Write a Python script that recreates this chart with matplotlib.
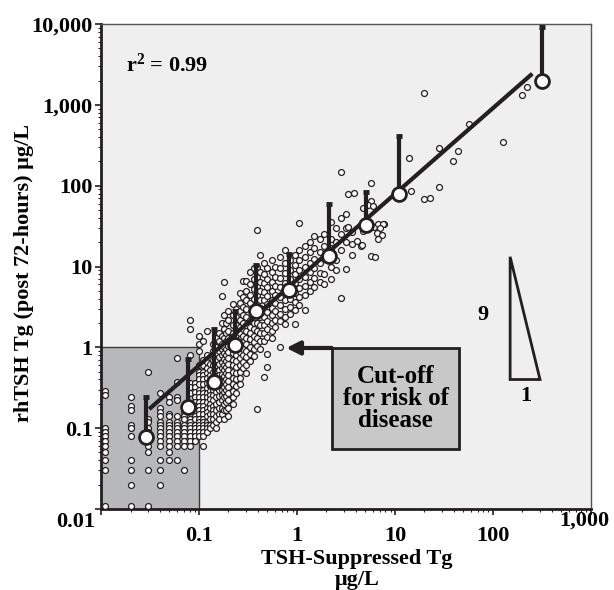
import matplotlib
matplotlib.use('Agg')
import matplotlib.pyplot as plt
from matplotlib.patches import Rectangle, Polygon

plt.rcParams['font.family'] = ['Liberation Serif', 'DejaVu Serif']
plt.rcParams['font.weight'] = 'bold'
plt.rcParams['mathtext.fontset'] = 'custom'
plt.rcParams['mathtext.rm'] = 'Liberation Serif:bold'
plt.rcParams['mathtext.it'] = 'Liberation Serif:italic:bold'
plt.rcParams['mathtext.bf'] = 'Liberation Serif:bold'

INK = '#231f20'

# individual patients, low values reported in steps -> columns of the same x
grid_cols = {
    0.011: [0.29, 0.26, 0.1, 0.09, 0.08, 0.07, 0.06, 0.05, 0.04, 0.03, 0.011],
    0.02: [0.24, 0.19, 0.17, 0.11, 0.1, 0.08, 0.04, 0.03, 0.02, 0.011],
    0.03: [0.5, 0.13, 0.12, 0.1, 0.09, 0.07, 0.06, 0.05, 0.03, 0.011],
    0.04: [0.27, 0.18, 0.16, 0.14, 0.12, 0.11, 0.1, 0.09, 0.08, 0.07, 0.06, 0.04, 0.03, 0.02],
    0.05: [0.24, 0.21, 0.15, 0.14, 0.12, 0.11, 0.1, 0.09, 0.08, 0.07, 0.06, 0.05, 0.04],
    0.06: [0.74, 0.37, 0.24, 0.22, 0.14, 0.12, 0.11, 0.1, 0.09, 0.08, 0.07, 0.06, 0.04],
    0.07: [0.16, 0.14, 0.13, 0.11, 0.1, 0.09, 0.08, 0.07, 0.06, 0.03],
    0.08: [2.2, 1.7, 0.8, 0.36, 0.32, 0.27, 0.13, 0.12, 0.11, 0.1, 0.09, 0.08, 0.07, 0.06],
    0.09: [0.36, 0.32, 0.28, 0.24, 0.21, 0.19, 0.17, 0.14, 0.13, 0.11, 0.1, 0.09, 0.08, 0.07],
    0.1: [1.4, 1.1, 0.9, 0.6, 0.5, 0.45, 0.4, 0.35, 0.3, 0.27, 0.24, 0.21, 0.19, 0.17,
          0.15, 0.13, 0.12, 0.11, 0.1, 0.09, 0.08],
    0.11: [1.2, 0.7, 0.6, 0.5, 0.45, 0.4, 0.35, 0.3, 0.27, 0.24, 0.21, 0.19, 0.17, 0.15,
           0.13, 0.12, 0.11, 0.1, 0.09, 0.08, 0.06],
    0.12: [1.6, 0.8, 0.65, 0.55, 0.48, 0.42, 0.36, 0.31, 0.27, 0.24, 0.21, 0.18, 0.16,
           0.14, 0.12, 0.11, 0.1, 0.09],
    0.13: [0.75, 0.62, 0.52, 0.45, 0.39, 0.33, 0.29, 0.26, 0.23, 0.2, 0.18, 0.15, 0.13, 0.11, 0.1],
    0.14: [1.1, 0.9, 0.7, 0.6, 0.5, 0.43, 0.3, 0.26, 0.22, 0.19, 0.17, 0.15, 0.13, 0.11],
    0.15: [1.3, 1.0, 0.85, 0.7, 0.6, 0.5, 0.44, 0.38, 0.33, 0.28, 0.24, 0.2, 0.17, 0.14, 0.12, 0.1],
    0.16: [1.5, 1.2, 0.9, 0.75, 0.62, 0.52, 0.45, 0.4, 0.34, 0.3, 0.25, 0.21, 0.18, 0.15, 0.13],
    0.17: [4.3, 2.0, 1.4, 1.1, 0.95, 0.8, 0.66, 0.55, 0.47, 0.4, 0.35, 0.3, 0.26, 0.22, 0.18, 0.15],
    0.18: [6.4, 2.5, 1.7, 1.3, 1.0, 0.85, 0.72, 0.6, 0.52, 0.44, 0.38, 0.32, 0.28, 0.24,
           0.2, 0.17, 0.13],
    0.19: [2.0, 1.5, 1.2, 0.95, 0.8, 0.68, 0.57, 0.48, 0.41, 0.35, 0.3, 0.25, 0.21, 0.17],
    0.2: [2.8, 2.2, 1.6, 1.3, 1.05, 0.88, 0.74, 0.62, 0.53, 0.45, 0.38, 0.32, 0.27, 0.22, 0.18, 0.14],
    0.22: [3.4, 2.5, 1.9, 1.5, 1.25, 1.0, 0.85, 0.7, 0.6, 0.5, 0.42, 0.35, 0.29, 0.24, 0.2],
    0.24: [3.0, 2.4, 1.9, 1.6, 1.35, 0.95, 0.8, 0.68, 0.57, 0.48, 0.4, 0.33, 0.27],
    0.26: [4.7, 3.5, 2.8, 2.2, 1.8, 1.5, 1.25, 1.05, 0.88, 0.73, 0.6, 0.5, 0.42, 0.35],
    0.28: [6.7, 4.2, 3.2, 2.5, 2.0, 1.7, 1.4, 1.15, 0.95, 0.8, 0.66, 0.55],
    0.3: [6.7, 5.0, 3.8, 3.0, 2.4, 1.9, 1.6, 1.3, 1.1, 0.9, 0.75, 0.6, 0.48],
    0.33: [8.5, 6.0, 4.5, 3.5, 2.2, 1.8, 1.5, 1.25, 1.0, 0.82, 0.68],
    0.36: [9.5, 7.0, 5.2, 4.0, 3.2, 2.0, 1.7, 1.4, 1.15, 0.95, 0.78],
    0.39: [28, 10, 7.5, 5.8, 4.5, 3.6, 2.0, 1.6, 1.3, 1.05, 0.175],
    0.42: [14, 8.5, 6.5, 5.0, 3.9, 3.1, 2.4, 1.9, 1.5, 1.2, 0.95],
    0.46: [11, 8.0, 6.2, 4.8, 3.8, 3.0, 2.4, 1.9, 1.5, 1.2, 0.43],
    0.5: [9.5, 7.0, 5.5, 4.3, 3.4, 2.7, 2.1, 1.7, 1.35, 0.83, 0.57],
    0.55: [12, 8.5, 6.5, 5.0, 3.9, 3.1, 2.5, 2.0, 1.6, 1.3],
    0.6: [10, 7.5, 5.8, 4.5, 3.5, 2.8, 2.2, 1.8],
    0.67: [13, 9.5, 7.2, 5.5, 4.2, 3.3, 2.6, 2.1, 1.0],
    0.75: [16, 11, 8.2, 6.3, 4.8, 3.8, 3.0, 2.4, 1.95],
    0.85: [12, 9, 7, 4.0, 3.2, 2.6],
    0.95: [14, 10.5, 8.0, 6.2, 4.7, 3.6, 2.9, 1.95],
    1.05: [35, 16, 12, 9, 7, 5.4, 4.2, 3.3],
    1.2: [18, 13, 10, 7.5, 5.8, 4.5, 2.9],
    1.35: [20, 15, 11, 8.5, 6.5, 5.0],
    1.5: [24, 17, 12.5, 9.5, 7.2, 5.6],
    1.7: [22, 15, 11, 8.4, 6.4],
    1.9: [25, 18, 8, 6],
    2.2: [36, 22, 17, 10, 7],
    2.5: [30, 20, 12, 9],
    2.8: [146, 40, 25, 16, 4.1],
    3.2: [45, 30, 20, 9.2],
    3.6: [27, 19, 14],
}

# sparse patients at high values
extra_x = [3.3, 3.8, 5.7, 5.7, 5.3, 4.7, 5.9, 3.3, 7.0, 7.7, 6.1, 6.7, 7.6, 7.0, 6.6, 7.4,
           6.7, 5.2, 4.7, 4.1, 4.5, 4.6, 5.7, 6.3, 14.6, 14, 20, 23, 28, 28, 39, 44, 57,
           20, 127, 200, 222]
extra_y = [80, 82, 107, 65, 58, 53, 56, 30.5, 32.4, 33.7, 31.2, 33.7, 33.3, 30, 26, 24.6,
           22, 31.4, 27.8, 20.6, 17.7, 18.2, 13.4, 13.0, 86, 220, 68, 70, 95, 295, 200, 265,
           580, 1400, 350, 1330, 1680]

# binned means with upper error bars
bin_x = [0.029, 0.078, 0.143, 0.233, 0.38, 0.83, 2.12, 5.06, 11, 314]
bin_y = [0.078, 0.183, 0.373, 1.06, 2.78, 5.15, 13.6, 33, 79, 1980]
bin_top = [0.243, 0.71, 1.67, 2.8, 10.5, 14.1, 60, 82.7, 414, 9180]

# regression line end points
fit_x = [0.031, 252]
fit_y = [0.172, 2430]

xs, ys = [], []
for cx, col in grid_cols.items():
    xs += [cx] * len(col)
    ys += col
xs += extra_x
ys += extra_y

fig = plt.figure(figsize=(6.14, 5.9), dpi=100)
ax = fig.add_axes([0.1645, 0.1373, 0.798, 0.822])
ax.set_facecolor('#efefef')
ax.set_xscale('log')
ax.set_yscale('log')
ax.set_xlim(0.01, 1000)
ax.set_ylim(0.01, 10000)

# cut-off region
ax.add_patch(Rectangle((0.01, 0.01), 0.09, 0.99, facecolor='#b7b8ba',
                       edgecolor='#3a3a3a', lw=1, zorder=1))

ax.scatter(xs, ys, s=18, facecolor='white', edgecolor=INK, linewidth=0.9, zorder=3)
ax.plot(fit_x, fit_y, color=INK, lw=3, solid_capstyle='butt', zorder=4)

yerr_up = [t - m for t, m in zip(bin_top, bin_y)]
ax.errorbar(bin_x, bin_y, yerr=[[0] * len(bin_y), yerr_up], fmt='none', ecolor=INK,
            elinewidth=3, capsize=2.5, capthick=3.5, zorder=5)
ax.plot(bin_x, bin_y, 'o', ms=10, mfc='white', mec=INK, mew=2, zorder=6)

for side in ['top', 'right']:
    ax.spines[side].set_color('#555555')
    ax.spines[side].set_linewidth(1)
for side in ['left', 'bottom']:
    ax.spines[side].set_color(INK)
    ax.spines[side].set_linewidth(2)

ax.set_yticks([0.01, 0.1, 1, 10, 100, 1000, 10000])
ax.set_yticklabels(['', '0.1', '1', '10', '100', '1,000', '10,000'])
ax.set_xticks([0.01, 0.1, 1, 10, 100, 1000])
ax.set_xticklabels(['', '0.1', '1', '10', '100', ''])
ax.tick_params(which='major', length=4, width=1.2, color=INK, labelsize=16)
ax.tick_params(which='minor', length=2.5, width=0.8, color=INK)
ax.tick_params(axis='y', pad=2)
ax.tick_params(axis='x', pad=8)

ax.text(-0.012, -0.027, '0.01', transform=ax.transAxes, ha='right', va='center', fontsize=16)
ax.text(0.986, -0.023, '1,000', transform=ax.transAxes, ha='center', va='center', fontsize=16)

ax.set_xlabel('TSH-Suppressed Tg\nμg/L', fontsize=16, fontweight='bold', linespacing=1.05)
ax.xaxis.set_label_coords(0.522, -0.083)
ax.set_ylabel('rhTSH Tg (post 72-hours) μg/L', fontsize=16, fontweight='bold')
ax.yaxis.set_label_coords(-0.137, 0.487)

ax.text(0.05, 0.915, 'r$^{2}$ = 0.99', transform=ax.transAxes, fontsize=16,
        ha='left', va='center')

# cut-off annotation box and arrow
ax.add_patch(Rectangle((0.471, 0.124), 0.259, 0.208, transform=ax.transAxes,
                       facecolor='#c8c8c8', edgecolor=INK, lw=2, zorder=7))
ax.text(0.601, 0.228, 'Cut-off\nfor risk of\ndisease', transform=ax.transAxes,
        ha='center', va='center', fontsize=18, linespacing=0.95, zorder=8)
ax.annotate('', xy=(0.378, 0.332), xytext=(0.471, 0.332), xycoords='axes fraction',
            arrowprops=dict(arrowstyle='-|>', lw=3, color=INK, mutation_scale=20,
                            shrinkA=0, shrinkB=0), zorder=8)

# slope triangle
ax.add_patch(Polygon([(0.835, 0.52), (0.835, 0.267), (0.896, 0.267)], closed=True,
                     transform=ax.transAxes, facecolor='none', edgecolor=INK, lw=2))
ax.text(0.779, 0.4, '9', transform=ax.transAxes, ha='center', va='center', fontsize=16)
ax.text(0.867, 0.232, '1', transform=ax.transAxes, ha='center', va='center', fontsize=16)

fig.savefig('out.png', dpi=100)
